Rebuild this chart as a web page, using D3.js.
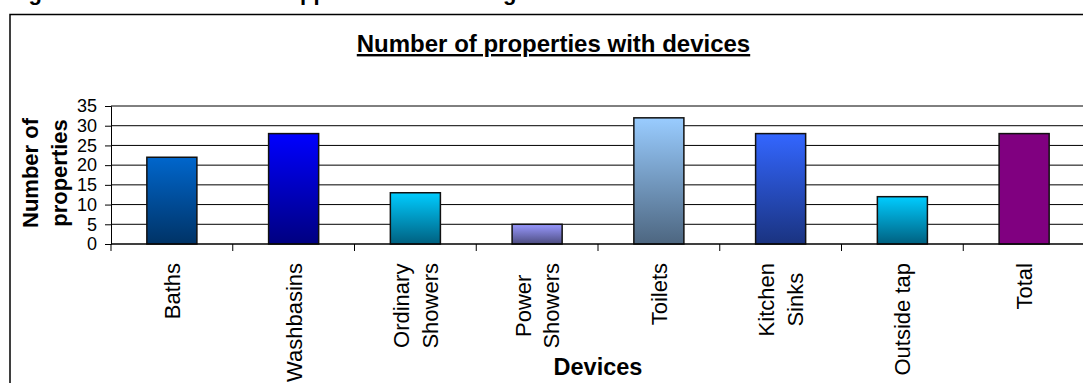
<!DOCTYPE html>
<html>
<head>
<meta charset="utf-8">
<script src="https://cdn.jsdelivr.net/npm/d3@7"></script>
<style>
  html, body { margin: 0; padding: 0; background: #fff; overflow: hidden; }
  svg { display: block; font-family: "Liberation Sans", Arial, sans-serif; }
</style>
</head>
<body>
<svg id="chart" width="1083" height="383"></svg>
<script>
// ---- data ----
const categories = ["Baths", "Washbasins", "Ordinary\nShowers", "Power\nShowers", "Toilets", "Kitchen\nSinks", "Outside tap", "Total"];
const values = [22, 28, 13, 5, 32, 28, 12, 28];
const yTicks = [0, 5, 10, 15, 20, 25, 30, 35];
const chartTitle = "Number of properties with devices";
const xTitle = "Devices";
const yTitleLines = ["Number of", "properties"];
const captionText = "Figure 4.3 Domestic water appliances in existing homes";

// ---- styles ----
const barTop =    ["#0066CC", "#0000FF", "#00CCFF", "#9999FF", "#99CCFF", "#3366FF", "#00CCFF", "#800080"];
const barBottom = ["#003366", "#000080", "#006080", "#4D4D80", "#4D6680", "#1A3380", "#006080", "#800080"];

const svg = d3.select("#chart");
const W = 1083, H = 383;
const plot = { left: 111, right: 1085, top: 106, bottom: 244 };

// gradients
const defs = svg.append("defs");
categories.forEach((c, i) => {
  const g = defs.append("linearGradient").attr("id", "grad" + i)
    .attr("x1", 0).attr("y1", 0).attr("x2", 0).attr("y2", 1);
  g.append("stop").attr("offset", "0%").attr("stop-color", barTop[i]);
  g.append("stop").attr("offset", "100%").attr("stop-color", barBottom[i]);
});

// caption (clipped at top, as in the reference)
svg.append("text")
  .attr("x", 9).attr("y", -0.5)
  .attr("font-size", 22).attr("font-weight", "bold")
  .text(captionText);

// outer frame
svg.append("rect")
  .attr("x", 10).attr("y", 14.5)
  .attr("width", 1200).attr("height", 500)
  .attr("fill", "none").attr("stroke", "#000").attr("stroke-width", 1.5);

// scales
const x = d3.scaleBand().domain(categories).range([plot.left, plot.right])
  .paddingInner(0.589).paddingOuter(0.2945);
const y = d3.scaleLinear().domain([0, 35]).range([plot.bottom, plot.top]);

// gridlines
svg.append("g").selectAll("line").data(yTicks).join("line")
  .attr("x1", plot.left).attr("x2", W)
  .attr("y1", d => y(d)).attr("y2", d => y(d))
  .attr("stroke", "#000").attr("stroke-width", 1);

// bars
svg.append("g").selectAll("rect").data(values).join("rect")
  .attr("x", (d, i) => x(categories[i]))
  .attr("y", d => y(d))
  .attr("width", x.bandwidth())
  .attr("height", d => y(0) - y(d))
  .attr("fill", (d, i) => "url(#grad" + i + ")")
  .attr("stroke", "#111").attr("stroke-width", 1.5);

// y axis
const yAxis = d3.axisLeft(y).tickValues(yTicks).tickSize(6).tickPadding(8);
const gy = svg.append("g").attr("transform", `translate(${plot.left},0)`).call(yAxis);
gy.select(".domain").attr("stroke", "#000").attr("stroke-width", 1);
gy.selectAll(".tick line").attr("stroke", "#000");
gy.selectAll(".tick text").attr("font-size", 18).attr("fill", "#000")
  .attr("font-family", "Liberation Sans, Arial, sans-serif");

// x axis: line + tick marks at band boundaries
const step = x.step();
const bounds = d3.range(categories.length + 1).map(i => plot.left + i * step);
svg.append("line").attr("x1", plot.left).attr("x2", W)
  .attr("y1", y(0)).attr("y2", y(0)).attr("stroke", "#000").attr("stroke-width", 1.2);
svg.append("g").selectAll("line").data(bounds).join("line")
  .attr("x1", d => d).attr("x2", d => d)
  .attr("y1", y(0)).attr("y2", y(0) + 7)
  .attr("stroke", "#000").attr("stroke-width", 1);

// x category labels (rotated, multi-line centered, block top-aligned)
const labelFs = 22, lineGap = 28.5, labelTop = 263;
categories.forEach((c, i) => {
  const lines = c.split("\n");
  const cx = x(c) + x.bandwidth() / 2;
  const g = svg.append("g");
  const texts = lines.map((ln, j) => {
    const lx = cx + (j - (lines.length - 1) / 2) * lineGap + 0.36 * labelFs;
    return g.append("text")
      .attr("font-size", labelFs).attr("text-anchor", "middle")
      .attr("data-x", lx)
      .text(ln);
  });
  const maxLen = d3.max(texts, t => t.node().getComputedTextLength());
  const cy = labelTop + maxLen / 2;
  texts.forEach(t => {
    const lx = +t.attr("data-x");
    t.attr("transform", `translate(${lx},${cy}) rotate(-90)`);
  });
});

// axis titles
svg.append("text")
  .attr("x", (plot.left + plot.right) / 2).attr("y", 375)
  .attr("text-anchor", "middle").attr("font-size", 23.5).attr("font-weight", "bold")
  .text(xTitle);

yTitleLines.forEach((ln, j) => {
  svg.append("text")
    .attr("transform", `translate(${38 + j * 29},173) rotate(-90)`)
    .attr("text-anchor", "middle").attr("font-size", 22).attr("font-weight", "bold")
    .text(ln);
});

// chart title with underline
svg.append("text")
  .attr("x", 553.5).attr("y", 52)
  .attr("text-anchor", "middle").attr("font-size", 24).attr("font-weight", "bold")
  .attr("text-decoration", "underline")
  .text(chartTitle);
</script>
</body>
</html>
